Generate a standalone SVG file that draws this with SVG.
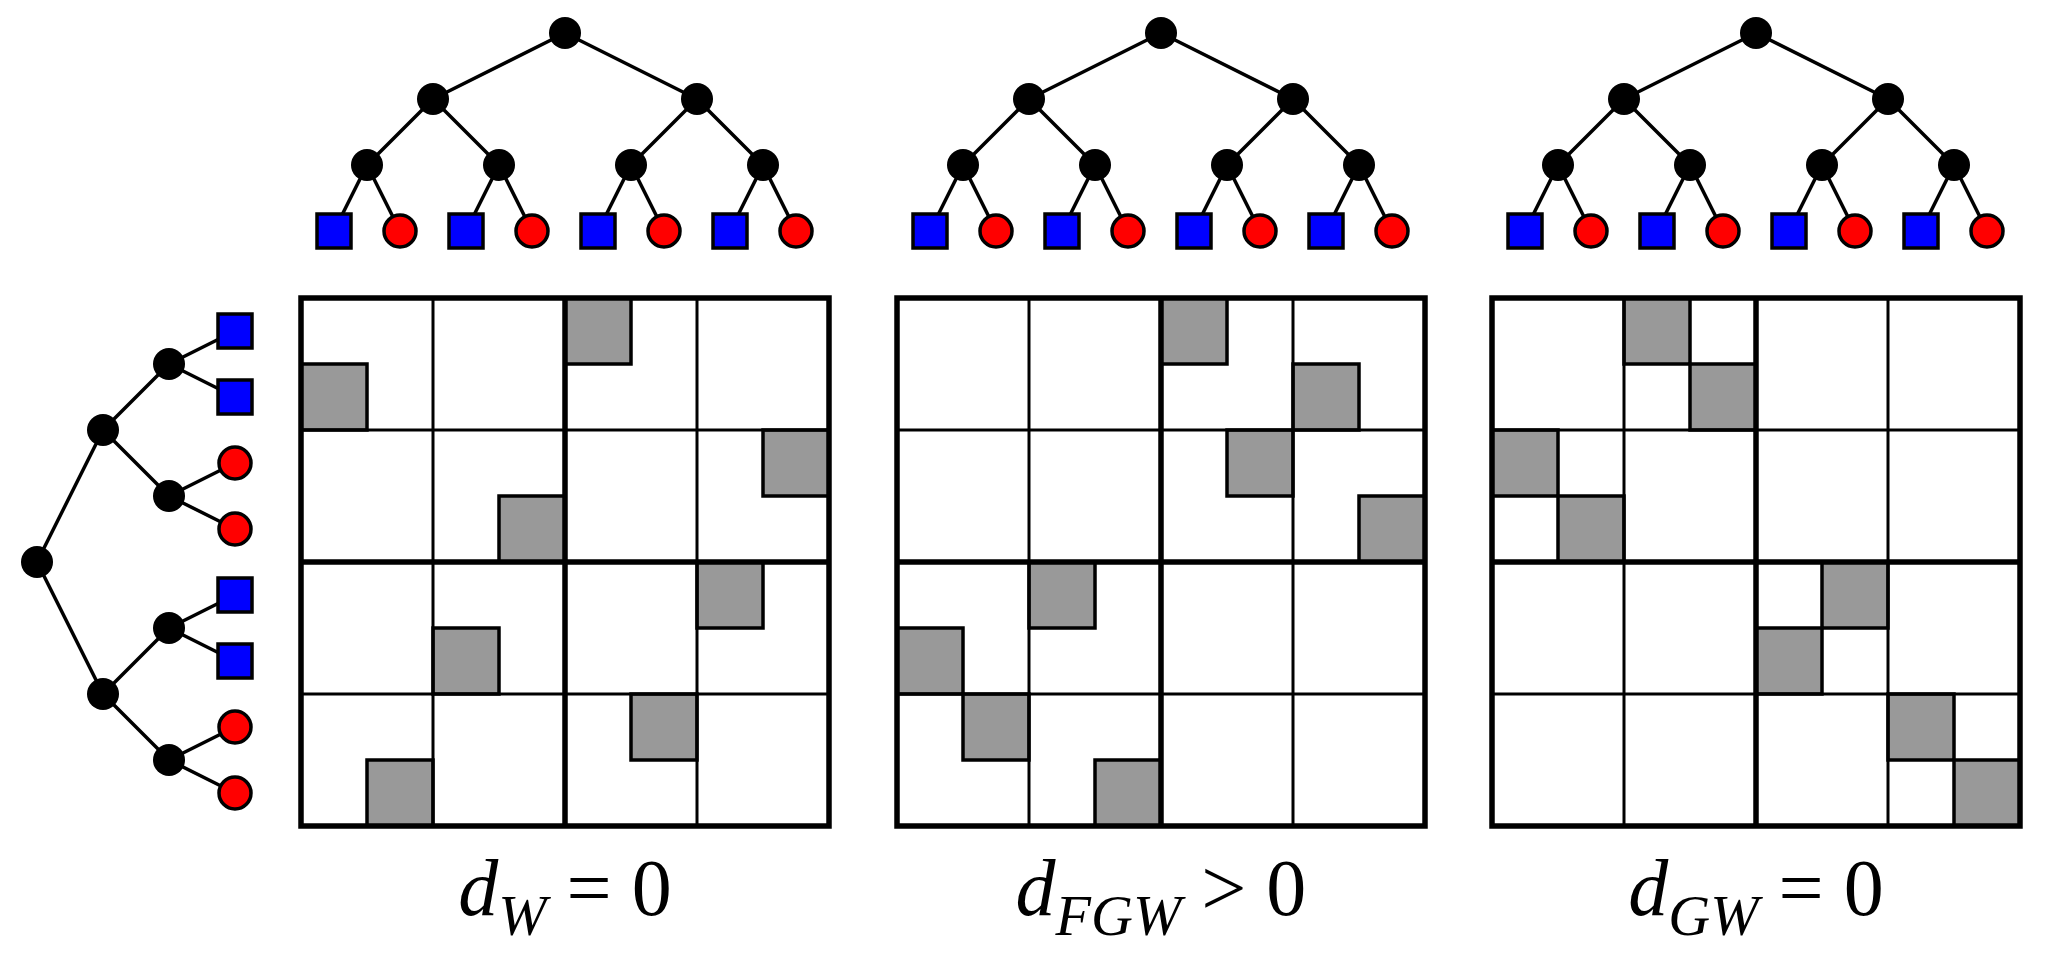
<svg xmlns="http://www.w3.org/2000/svg" width="2056" height="958" viewBox="0 0 2056 958">
<style>
.e{stroke:#000;stroke-width:3.5;fill:none}
.n{fill:#000}
.sq{fill:#0000ff;stroke:#000;stroke-width:3.5}
.ci{fill:#ff0000;stroke:#000;stroke-width:3.5}
.g{fill:#999;stroke:#000;stroke-width:3.5}
.thin{stroke:#000;stroke-width:3}
.thick{stroke:#000;stroke-width:5.5}
.lbl{font-family:"Liberation Serif",serif;font-size:80px}
.it{font-style:italic}
</style>
<rect width="2056" height="958" fill="#fff"/>
<g id="connectors">
<!-- top trees -->
<g transform="translate(301,0)">
<path class="e" d="M264,33L132,99M264,33L396,99M132,99L66,165M132,99L198,165M396,99L330,165M396,99L462,165M66,165L33,231M66,165L99,231M198,165L165,231M198,165L231,231M330,165L297,231M330,165L363,231M462,165L429,231M462,165L495,231"/>
</g>
<g transform="translate(897,0)">
<path class="e" d="M264,33L132,99M264,33L396,99M132,99L66,165M132,99L198,165M396,99L330,165M396,99L462,165M66,165L33,231M66,165L99,231M198,165L165,231M198,165L231,231M330,165L297,231M330,165L363,231M462,165L429,231M462,165L495,231"/>
</g>
<g transform="translate(1492,0)">
<path class="e" d="M264,33L132,99M264,33L396,99M132,99L66,165M132,99L198,165M396,99L330,165M396,99L462,165M66,165L33,231M66,165L99,231M198,165L165,231M198,165L231,231M330,165L297,231M330,165L363,231M462,165L429,231M462,165L495,231"/>
</g>
<!-- left tree -->
<path class="e" d="M37,562L103,430M37,562L103,694M103,430L169,364M103,430L169,496M103,694L169,628M103,694L169,760M169,364L235,331M169,364L235,397M169,496L235,463M169,496L235,529M169,628L235,595M169,628L235,661M169,760L235,727M169,760L235,793"/>
</g>
<g id="tree-top-1" transform="translate(301,0)">
<circle class="n" cx="264" cy="33" r="16"/><circle class="n" cx="132" cy="99" r="16"/><circle class="n" cx="396" cy="99" r="16"/>
<circle class="n" cx="66" cy="165" r="16"/><circle class="n" cx="198" cy="165" r="16"/><circle class="n" cx="330" cy="165" r="16"/><circle class="n" cx="462" cy="165" r="16"/>
<rect class="sq" x="16" y="214" width="34" height="34"/><circle class="ci" cx="99" cy="231" r="16"/>
<rect class="sq" x="148" y="214" width="34" height="34"/><circle class="ci" cx="231" cy="231" r="16"/>
<rect class="sq" x="280" y="214" width="34" height="34"/><circle class="ci" cx="363" cy="231" r="16"/>
<rect class="sq" x="412" y="214" width="34" height="34"/><circle class="ci" cx="495" cy="231" r="16"/>
</g>
<g id="tree-top-2" transform="translate(897,0)">
<circle class="n" cx="264" cy="33" r="16"/><circle class="n" cx="132" cy="99" r="16"/><circle class="n" cx="396" cy="99" r="16"/>
<circle class="n" cx="66" cy="165" r="16"/><circle class="n" cx="198" cy="165" r="16"/><circle class="n" cx="330" cy="165" r="16"/><circle class="n" cx="462" cy="165" r="16"/>
<rect class="sq" x="16" y="214" width="34" height="34"/><circle class="ci" cx="99" cy="231" r="16"/>
<rect class="sq" x="148" y="214" width="34" height="34"/><circle class="ci" cx="231" cy="231" r="16"/>
<rect class="sq" x="280" y="214" width="34" height="34"/><circle class="ci" cx="363" cy="231" r="16"/>
<rect class="sq" x="412" y="214" width="34" height="34"/><circle class="ci" cx="495" cy="231" r="16"/>
</g>
<g id="tree-top-3" transform="translate(1492,0)">
<circle class="n" cx="264" cy="33" r="16"/><circle class="n" cx="132" cy="99" r="16"/><circle class="n" cx="396" cy="99" r="16"/>
<circle class="n" cx="66" cy="165" r="16"/><circle class="n" cx="198" cy="165" r="16"/><circle class="n" cx="330" cy="165" r="16"/><circle class="n" cx="462" cy="165" r="16"/>
<rect class="sq" x="16" y="214" width="34" height="34"/><circle class="ci" cx="99" cy="231" r="16"/>
<rect class="sq" x="148" y="214" width="34" height="34"/><circle class="ci" cx="231" cy="231" r="16"/>
<rect class="sq" x="280" y="214" width="34" height="34"/><circle class="ci" cx="363" cy="231" r="16"/>
<rect class="sq" x="412" y="214" width="34" height="34"/><circle class="ci" cx="495" cy="231" r="16"/>
</g>
<g id="tree-left">
<circle class="n" cx="37" cy="562" r="16"/><circle class="n" cx="103" cy="430" r="16"/><circle class="n" cx="103" cy="694" r="16"/>
<circle class="n" cx="169" cy="364" r="16"/><circle class="n" cx="169" cy="496" r="16"/><circle class="n" cx="169" cy="628" r="16"/><circle class="n" cx="169" cy="760" r="16"/>
<rect class="sq" x="218" y="314" width="34" height="34"/><rect class="sq" x="218" y="380" width="34" height="34"/>
<circle class="ci" cx="235" cy="463" r="16"/><circle class="ci" cx="235" cy="529" r="16"/>
<rect class="sq" x="218" y="578" width="34" height="34"/><rect class="sq" x="218" y="644" width="34" height="34"/>
<circle class="ci" cx="235" cy="727" r="16"/><circle class="ci" cx="235" cy="793" r="16"/>
</g>
<g id="matrix-1" transform="translate(301,298)">
<rect x="0" y="0" width="528" height="528" fill="#fff"/>
<rect class="g" x="264" y="0" width="66" height="66"/><rect class="g" x="0" y="66" width="66" height="66"/>
<rect class="g" x="462" y="132" width="66" height="66"/><rect class="g" x="198" y="198" width="66" height="66"/>
<rect class="g" x="396" y="264" width="66" height="66"/><rect class="g" x="132" y="330" width="66" height="66"/>
<rect class="g" x="330" y="396" width="66" height="66"/><rect class="g" x="66" y="462" width="66" height="66"/>
<path class="thin" d="M132,0V528M396,0V528M0,132H528M0,396H528"/>
<path class="thick" d="M264,0V528M0,264H528"/>
<rect class="thick" x="0" y="0" width="528" height="528" fill="none"/>
</g>
<g id="matrix-2" transform="translate(897,298)">
<rect x="0" y="0" width="528" height="528" fill="#fff"/>
<rect class="g" x="264" y="0" width="66" height="66"/><rect class="g" x="396" y="66" width="66" height="66"/>
<rect class="g" x="330" y="132" width="66" height="66"/><rect class="g" x="462" y="198" width="66" height="66"/>
<rect class="g" x="132" y="264" width="66" height="66"/><rect class="g" x="0" y="330" width="66" height="66"/>
<rect class="g" x="66" y="396" width="66" height="66"/><rect class="g" x="198" y="462" width="66" height="66"/>
<path class="thin" d="M132,0V528M396,0V528M0,132H528M0,396H528"/>
<path class="thick" d="M264,0V528M0,264H528"/>
<rect class="thick" x="0" y="0" width="528" height="528" fill="none"/>
</g>
<g id="matrix-3" transform="translate(1492,298)">
<rect x="0" y="0" width="528" height="528" fill="#fff"/>
<rect class="g" x="132" y="0" width="66" height="66"/><rect class="g" x="198" y="66" width="66" height="66"/>
<rect class="g" x="0" y="132" width="66" height="66"/><rect class="g" x="66" y="198" width="66" height="66"/>
<rect class="g" x="330" y="264" width="66" height="66"/><rect class="g" x="264" y="330" width="66" height="66"/>
<rect class="g" x="396" y="396" width="66" height="66"/><rect class="g" x="462" y="462" width="66" height="66"/>
<path class="thin" d="M132,0V528M396,0V528M0,132H528M0,396H528"/>
<path class="thick" d="M264,0V528M0,264H528"/>
<rect class="thick" x="0" y="0" width="528" height="528" fill="none"/>
</g>
<g id="label-1"><text class="lbl" x="565" y="915" text-anchor="middle"><tspan class="it">d</tspan><tspan class="it" font-size="58" dy="20">W</tspan><tspan dy="-20"> = 0</tspan></text></g>
<g id="label-2"><text class="lbl" x="1161" y="915" text-anchor="middle"><tspan class="it">d</tspan><tspan class="it" font-size="58" dy="20">FGW</tspan><tspan dy="-20"> &gt; 0</tspan></text></g>
<g id="label-3"><text class="lbl" x="1756" y="915" text-anchor="middle"><tspan class="it">d</tspan><tspan class="it" font-size="58" dy="20">GW</tspan><tspan dy="-20"> = 0</tspan></text></g>
</svg>
